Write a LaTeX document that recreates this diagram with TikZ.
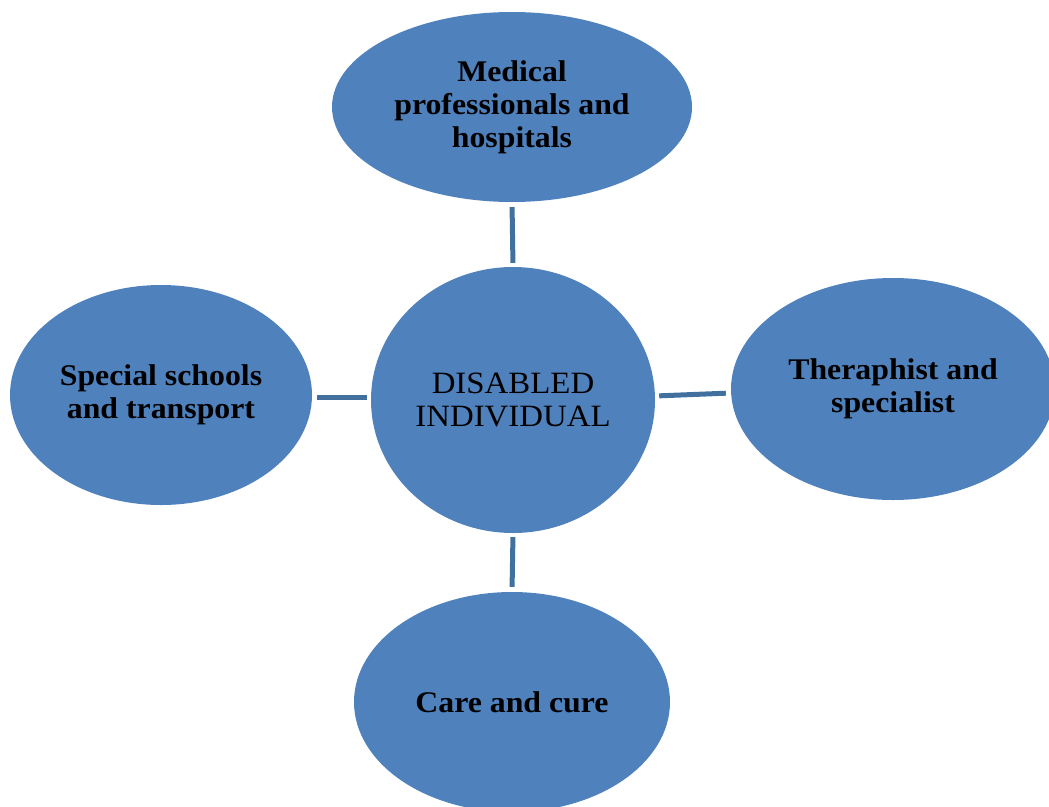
\documentclass[tikz,border=0pt]{standalone}
\usepackage{fontspec}
\setmainfont{Liberation Serif}[FakeStretch=1.06]
\usetikzlibrary{shapes.geometric}
\definecolor{blobfill}{HTML}{4F81BD}
\definecolor{linkcol}{HTML}{41709F}
\begin{document}
\begin{tikzpicture}[x=1pt,y=1pt,
  blob/.style={ellipse, fill=blobfill, draw=none, inner sep=0pt, align=center,
    font=\bfseries\fontsize{30}{33}\selectfont},
  hub/.style={ellipse, fill=blobfill, draw=none, inner sep=0pt, align=center,
    font=\fontsize{31}{33}\selectfont},
  link/.style={draw=linkcol, line width=5pt, shorten <=4pt, shorten >=5pt}]
\useasboundingbox (0,0) rectangle (1049,-806);
\node[hub, minimum width=284, minimum height=266] (c) at (513,-400) {DISABLED\\INDIVIDUAL};
\node[blob, minimum width=360, minimum height=190] (t) at (512,-107) {Medical\\professionals and\\hospitals};
\node[blob, minimum width=302, minimum height=220] (l) at (161,-395) {Special schools\\and transport};
\node[blob, minimum width=324, minimum height=222] (r) at (893,-389) {Theraphist and\\specialist};
\node[blob, minimum width=316, minimum height=220] (b) at (512,-702) {Care and cure};
\draw[link] (c.north) -- (t.south);
\draw[link] ([yshift=3pt]c.west) -- ([yshift=3pt]c.west -| l.east);
\draw[link] ([yshift=4pt]c.east) -- ([yshift=-4pt]r.west);
\draw[link] (c.south) -- (b.north);
\end{tikzpicture}
\end{document}
